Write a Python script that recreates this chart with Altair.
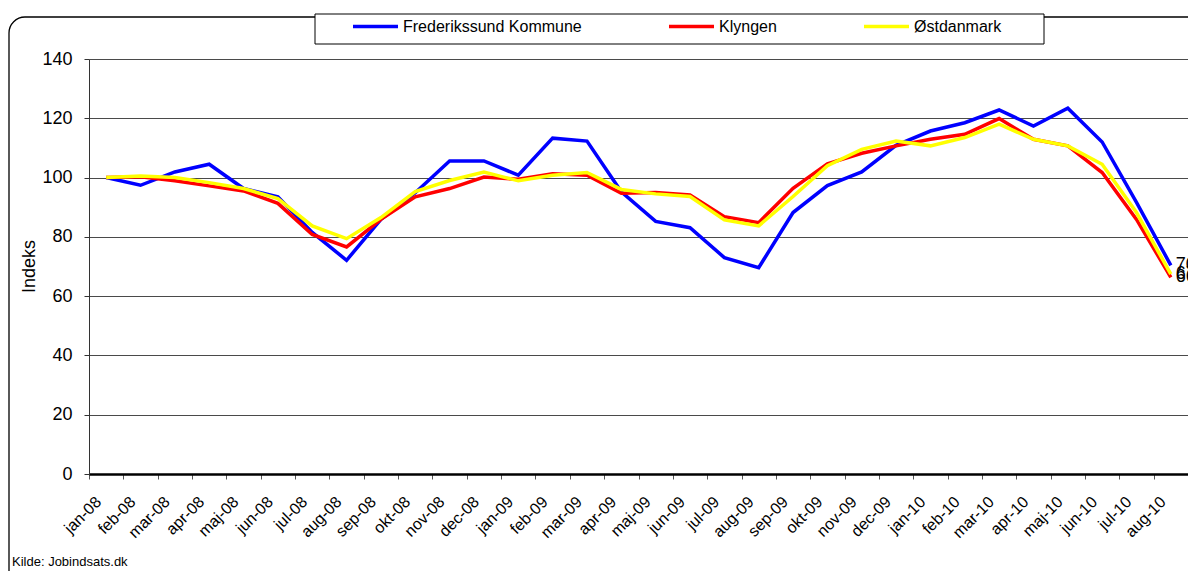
import altair as alt
import pandas as pd

months = ["jan-08", "feb-08", "mar-08", "apr-08", "maj-08", "jun-08", "jul-08", "aug-08",
          "sep-08", "okt-08", "nov-08", "dec-08", "jan-09", "feb-09", "mar-09", "apr-09",
          "maj-09", "jun-09", "jul-09", "aug-09", "sep-09", "okt-09", "nov-09", "dec-09",
          "jan-10", "feb-10", "mar-10", "apr-10", "maj-10", "jun-10", "jul-10", "aug-10"]

frederikssund = [100, 97.4, 101.9, 104.5, 96.3, 93.5, 81.5, 72.1, 85.9, 94.9, 105.6, 105.6,
                 100.8, 113.3, 112.3, 95.2, 85.2, 83.1, 73.0, 69.6, 88.2, 97.3, 101.9, 110.9,
                 115.7, 118.5, 122.8, 117.4, 123.4, 112.0, 91.6, 70.4]
klyngen = [100, 100.3, 98.9, 97.2, 95.5, 91.3, 80.8, 76.6, 85.9, 93.5, 96.3, 100.2,
           99.4, 101.3, 100.8, 94.7, 95.0, 94.1, 86.8, 84.8, 96.4, 104.6, 108.2, 110.7,
           112.9, 114.6, 119.9, 112.9, 110.7, 101.7, 85.9, 66.3]
ostdanmark = [100, 100.5, 100.0, 98.3, 96.3, 92.9, 83.7, 79.4, 86.5, 95.3, 99.0, 101.9,
              98.9, 100.8, 101.7, 96.0, 94.5, 93.6, 85.7, 83.7, 93.6, 104.0, 109.5, 112.3,
              110.7, 113.5, 118.0, 112.9, 110.7, 104.5, 88.2, 67.4]

series_names = ["Frederikssund Kommune", "Klyngen", "Østdanmark"]
series_colors = ["#0000FF", "#FF0000", "#FFFF00"]
y_ticks = [0, 20, 40, 60, 80, 100, 120, 140]
source_text = "Kilde: Jobindsats.dk"

rows = []
for name, vals in zip(series_names, [frederikssund, klyngen, ostdanmark]):
    for m, v in zip(months, vals):
        rows.append({"month": m, "series": name, "value": v})
df = pd.DataFrame(rows)

last = df[df["month"] == months[-1]].copy()
last["label"] = last["value"].round(0).astype(int).astype(str)

FONT = "Liberation Sans"

x_enc = alt.X("month:N", sort=months, bandPosition=0.5,
              scale=alt.Scale(type="band", paddingInner=0, paddingOuter=0),
              axis=alt.Axis(title=None, labelAngle=-45, labelAlign="right", labelBaseline="middle",
                            labelFontSize=16, labelFont=FONT, labelColor="#000",
                            labelPadding=20, labelOffset=-8,
                            tickBand="extent", tickSize=5, tickColor="#555",
                            domainColor="#000", domainWidth=2.5, grid=False))
y_enc = alt.Y("value:Q", scale=alt.Scale(domain=[0, 140], nice=False, zero=True),
              axis=alt.Axis(values=y_ticks, title="Indeks", titleFontSize=18, titleFont=FONT,
                            titleFontWeight="normal", titleColor="#000", titleAngle=-90,
                            titleX=-55, titleY=207, titleBaseline="alphabetic", titleAlign="center",
                            labelFontSize=18, labelFont=FONT, labelColor="#000", labelPadding=12,
                            tickSize=5, tickColor="#333", domainColor="#333", domainWidth=1,
                            grid=True, gridColor="#4a4a4a", gridWidth=1))
color_enc = alt.Color("series:N", scale=alt.Scale(domain=series_names, range=series_colors),
                      sort=series_names,
                      legend=alt.Legend(title=None, orient="none", legendX=262, legendY=-57,
                                        direction="horizontal", columns=3, gridAlign="none",
                                        columnPadding=80, symbolType="stroke", symbolSize=2025,
                                        symbolStrokeWidth=3.5, labelFontSize=16, labelFont=FONT,
                                        labelColor="#000", labelOffset=3, labelLimit=400,
                                        padding=0))

base = alt.Chart(df)

frame = alt.Chart(pd.DataFrame({"k": [0]})).mark_rect(
    fill=None, fillOpacity=0, stroke="#000", strokeWidth=1.3, cornerRadius=16
).encode(x=alt.value(-80), x2=alt.value(1200), y=alt.value(-42), y2=alt.value(600))

legend_box = alt.Chart(pd.DataFrame({"k": [0]})).mark_rect(
    fill="#fff", stroke="#000", strokeWidth=1
).encode(x=alt.value(226), x2=alt.value(955), y=alt.value(-45), y2=alt.value(-15))

lines = []
for name in series_names:
    lines.append(
        base.transform_filter(alt.datum.series == name)
        .mark_line(strokeWidth=3.5, strokeJoin="miter")
        .encode(x=x_enc, y=y_enc, color=color_enc)
    )

end_labels = alt.Chart(last).mark_text(
    align="left", baseline="middle", dx=5, fontSize=18, font=FONT, color="#000"
).encode(x=alt.X("month:N", sort=months, bandPosition=0.5), y="value:Q", text="label:N")

source = alt.Chart(pd.DataFrame({"t": [source_text]})).mark_text(
    align="left", baseline="middle", fontSize=13, font=FONT, color="#000"
).encode(x=alt.value(-77), y=alt.value(503), text="t:N")

chart = alt.layer(frame, legend_box, *lines, end_labels, source).properties(
    width=1099, height=415,
    padding={"left": 81, "top": 51, "right": 0, "bottom": 97},
    autosize=alt.AutoSizeParams(type="none"),
).configure_view(
    fill="#C0C0C0", stroke="#000", strokeWidth=2
).configure(background="#ffffff")

chart.save("out.html", embed_options={"renderer": "svg", "actions": False})
